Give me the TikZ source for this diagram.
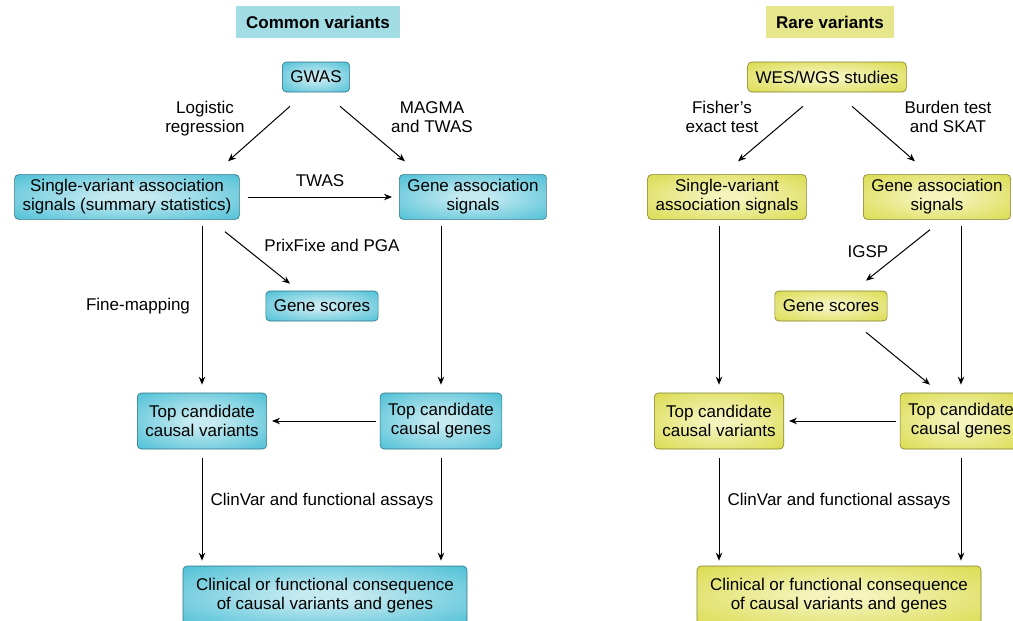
\documentclass[tikz,border=0pt]{standalone}
\usepackage{fontspec}
\setmainfont{Liberation Sans}
\usepackage{xcolor}
\usepackage{tikz}
\usetikzlibrary{positioning, arrows.meta, shadings}
\definecolor{cvEdge}{HTML}{45BDD4}
\definecolor{cvCore}{HTML}{C6EAF1}
\definecolor{cvLine}{HTML}{2E7383}
\definecolor{cvHead}{HTML}{A2DCE5}
\definecolor{rvEdge}{HTML}{D9D948}
\definecolor{rvCore}{HTML}{F4F4BC}
\definecolor{rvLine}{HTML}{7F7F2C}
\definecolor{rvHead}{HTML}{E6E68C}
\pgfdeclareradialshading{cvGlow}{\pgfpoint{0bp}{0bp}}{color(0bp)=(cvCore); color(5bp)=(cvCore); color(38bp)=(cvEdge); color(50bp)=(cvEdge)}
\pgfdeclareradialshading{rvGlow}{\pgfpoint{0bp}{0bp}}{color(0bp)=(rvCore); color(5bp)=(rvCore); color(38bp)=(rvEdge); color(50bp)=(rvEdge)}

\begin{document}
\begin{tikzpicture}[
    x=1pt, y=-1pt,
    font=\fontsize{17}{19}\selectfont,
    box/.style  ={draw, rounded corners=4pt, line width=0.6pt, align=center, inner xsep=8pt, inner ysep=5pt, minimum height=30pt},
    cbox/.style ={box, draw=cvLine, shading=cvGlow},
    rbox/.style ={box, draw=rvLine, shading=rvGlow},
    tall/.style ={minimum height=56pt},
    wide/.style ={inner xsep=13pt, minimum height=60pt},
    head/.style ={font=\fontsize{17}{19}\selectfont\bfseries, inner xsep=10pt, minimum height=32pt},
    lbl/.style  ={align=center, inner sep=0pt},
    arr/.style  ={-{Stealth[length=8pt, width=6.5pt]}, line width=1pt},
]
\useasboundingbox (0,0) rectangle (1013,621);

% ---- Headers ----
\node[head, fill=cvHead] (comhead) at (318,22) {Common variants};
\node[head, fill=rvHead] (rarehead) at (830,22) {Rare variants};

% ---- Common variants: boxes ----
\node[cbox] (gwas) at (316,77) {GWAS};
\node[cbox] (svC) at (127,197) {Single-variant association\\signals (summary statistics)};
\node[cbox] (gaC) at (473,197) {Gene association\\signals};
\node[cbox] (gsC) at (322,306) {Gene scores};
\node[cbox, tall] (tvC) at (202,421) {Top candidate\\causal variants};
\node[cbox, tall] (tgC) at (441,421) {Top candidate\\causal genes};
\node[cbox, wide] (clC) at (325,596) {Clinical or functional consequence\\of causal variants and genes};

% ---- Rare variants: boxes ----
\node[rbox] (wes) at (827,77) {WES/WGS studies};
\node[rbox] (svR) at (727,197) {Single-variant\\association signals};
\node[rbox] (gaR) at (937,197) {Gene association\\signals};
\node[rbox] (gsR) at (831,306) {Gene scores};
\node[rbox, tall] (tvR) at (719,421) {Top candidate\\causal variants};
\node[rbox, tall] (tgR) at (961,421) {Top candidate\\causal genes};
\node[rbox, wide] (clR) at (839,596) {Clinical or functional consequence\\of causal variants and genes};

% ---- Common variants: arrows ----
\draw[arr] ([xshift=-26pt, yshift=-14pt]gwas.south) -- ([xshift=101pt, yshift=13pt]svC.north);
\draw[arr] ([xshift=24pt, yshift=-14pt]gwas.south) -- ([xshift=-68pt, yshift=13pt]gaC.north);
\draw[arr, shorten <=8pt, shorten >=7pt] (svC) -- (gaC);
\draw[arr] ([xshift=98pt, yshift=-12pt]svC.south) -- ([xshift=-32pt, yshift=7pt]gsC.north);
\draw[arr, shorten <=6pt, shorten >=8pt] (tvC.north |- svC.south) -- (tvC.north);
\draw[arr, shorten <=6pt, shorten >=8pt] (tgC.north |- gaC.south) -- (tgC.north);
\draw[arr, shorten <=4pt, shorten >=5pt] (tgC) -- (tvC);
\draw[arr, shorten <=9pt, shorten >=5pt] (tvC.south) -- (tvC.south |- clC.north);
\draw[arr, shorten <=9pt, shorten >=5pt] (tgC.south) -- (tgC.south |- clC.north);

% ---- Rare variants: arrows ----
\draw[arr] ([xshift=-24pt, yshift=-14pt]wes.south) -- ([xshift=11pt, yshift=13pt]svR.north);
\draw[arr] ([xshift=25pt, yshift=-14pt]wes.south) -- ([xshift=-22pt, yshift=13pt]gaR.north);
\draw[arr, shorten <=6pt, shorten >=8pt] (tvR.north |- svR.south) -- (tvR.north);
\draw[arr, shorten <=6pt, shorten >=8pt] (tgR.north |- gaR.south) -- (tgR.north);
\draw[arr] ([xshift=-7pt, yshift=-10pt]gaR.south) -- ([xshift=35pt, yshift=10pt]gsR.north);
\draw[arr] ([xshift=35pt, yshift=-11pt]gsR.south) -- ([xshift=-31pt, yshift=8pt]tgR.north);
\draw[arr, shorten <=4pt, shorten >=5pt] (tgR) -- (tvR);
\draw[arr, shorten <=9pt, shorten >=5pt] (tvR.south) -- (tvR.south |- clR.north);
\draw[arr, shorten <=9pt, shorten >=5pt] (tgR.south) -- (tgR.south |- clR.north);

% ---- Arrow labels ----
\node[lbl] (logreg) at (205,119) {Logistic\\regression};
\node[lbl] (magma) at (432,117) {MAGMA\\and TWAS};
\node[lbl] (twas) at (320,181) {TWAS};
\node[lbl] (prix) at (332,245) {PrixFixe and PGA};
\node[lbl] (finemap) at (138,306) {Fine-mapping};
\node[lbl] (clinC) at (322,501) {ClinVar and functional assays};
\node[lbl] (fisher) at (722,117) {Fisher’s\\exact test};
\node[lbl] (burden) at (948,117) {Burden test\\and SKAT};
\node[lbl] (igsp) at (868,252) {IGSP};
\node[lbl] (clinR) at (839,501) {ClinVar and functional assays};

\end{tikzpicture}
\end{document}
